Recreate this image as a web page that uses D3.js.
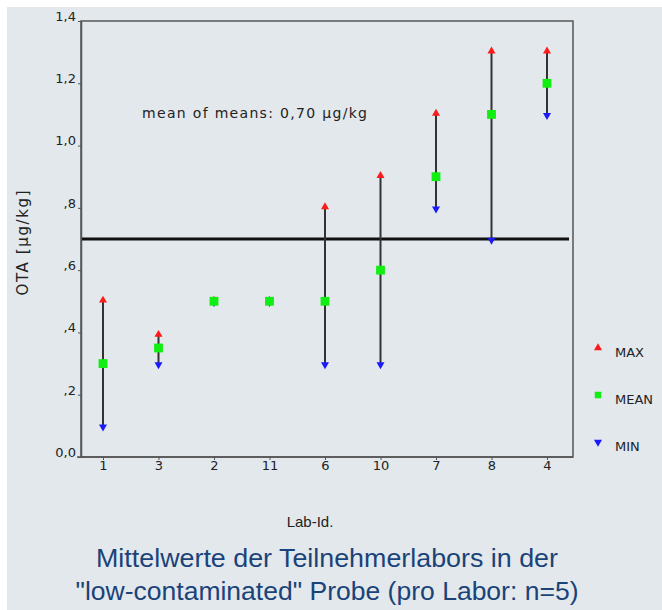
<!DOCTYPE html>
<html>
<head>
<meta charset="utf-8">
<script src="https://cdn.jsdelivr.net/npm/d3@7"></script>
<style>
  body { margin: 0; background: #fff; }
  svg { display: block; }
  .tick text { font-family: "DejaVu Sans", sans-serif; font-size: 13px; fill: #222; }
</style>
</head>
<body>
<div id="chart"></div>
<script>
// data
var labs = ["1", "3", "2", "11", "6", "10", "7", "8", "4"];
var maxVals = [0.5, 0.39, 0.5, 0.5, 0.8, 0.9, 1.1, 1.3, 1.3];
var meanVals = [0.3, 0.35, 0.5, 0.5, 0.5, 0.6, 0.9, 1.1, 1.2];
var minVals = [0.1, 0.3, 0.5, 0.5, 0.3, 0.3, 0.8, 0.7, 1.1];
var meanOfMeans = 0.7;
var yTicks = [0, 0.2, 0.4, 0.6, 0.8, 1.0, 1.2, 1.4];
var yTickLabels = ["0,0", ",2", ",4", ",6", ",8", "1,0", "1,2", "1,4"];
var legendNames = ["MAX", "MEAN", "MIN"];

var svgWidth = 662;
var svgHeight = 610;
var margin = {top: 21, right: 89, bottom: 153, left: 81};
var width = svgWidth - margin.left - margin.right;
var height = svgHeight - margin.top - margin.bottom;

var svg = d3.select("#chart")
  .append("svg")
  .attr("width", svgWidth)
  .attr("height", svgHeight);

// grey panel
svg.append("rect")
  .attr("x", 7).attr("y", 7)
  .attr("width", svgWidth - 7).attr("height", svgHeight - 7)
  .attr("fill", "#e3e8ec");

var chartGroup = svg.append("g")
  .attr("transform", `translate(${margin.left}, ${margin.top})`);

var xScale = d3.scalePoint()
  .domain(labs)
  .range([22, width - 26]);

var yScale = d3.scaleLinear()
  .domain([0, 1.4])
  .range([height, 0]);

// frame
chartGroup.append("rect")
  .attr("width", width).attr("height", height)
  .attr("fill", "none")
  .attr("stroke", "#555")
  .attr("stroke-width", 1.5);

// axes
var bottomAxis = d3.axisBottom(xScale).tickSize(3).tickSizeOuter(0).tickPadding(1);
var leftAxis = d3.axisLeft(yScale)
  .tickValues(yTicks)
  .tickFormat((d, i) => yTickLabels[i])
  .tickSize(3).tickSizeOuter(0).tickPadding(2);

var xAxisG = chartGroup.append("g")
  .attr("transform", `translate(0, ${height})`)
  .call(bottomAxis);
xAxisG.select(".domain").attr("d", `M-4,0H${width}`).attr("stroke", "#555").attr("stroke-width", 1.5);
xAxisG.selectAll(".tick line").attr("stroke", "#555");

var yAxisG = chartGroup.append("g").call(leftAxis);
yAxisG.select(".domain").attr("stroke", "#555").attr("stroke-width", 1.5);
yAxisG.selectAll(".tick line").attr("stroke", "#555");
yAxisG.selectAll(".tick text").attr("dy", "-0.05em");

// mean of means line
chartGroup.append("line")
  .attr("x1", 1).attr("x2", width - 4)
  .attr("y1", yScale(meanOfMeans)).attr("y2", yScale(meanOfMeans))
  .attr("stroke", "#111")
  .attr("stroke-width", 3);

chartGroup.append("text")
  .attr("x", 61)
  .attr("y", 97)
  .attr("font-family", "DejaVu Sans, sans-serif")
  .attr("font-size", 14)
  .attr("fill", "#222")
  .attr("textLength", 225)
  .text("mean of means: 0,70 µg/kg");

// range lines
var rows = labs.map((d, i) => ({lab: d, max: maxVals[i], mean: meanVals[i], min: minVals[i]}));

chartGroup.selectAll(".range")
  .data(rows)
  .enter()
  .append("line")
  .attr("class", "range")
  .attr("x1", d => xScale(d.lab))
  .attr("x2", d => xScale(d.lab))
  .attr("y1", d => yScale(d.max))
  .attr("y2", d => yScale(d.min))
  .attr("stroke", "#333")
  .attr("stroke-width", 2);

var triUp = d3.symbol().type(d3.symbolTriangle).size(28);
var square = d3.symbol().type(d3.symbolSquare).size(78);

chartGroup.selectAll(".minMark")
  .data(rows)
  .enter()
  .append("path")
  .attr("class", "minMark")
  .attr("d", triUp)
  .attr("transform", d => `translate(${xScale(d.lab)}, ${yScale(d.min) + 1}) rotate(180)`)
  .attr("fill", "#1a1aff");

chartGroup.selectAll(".maxMark")
  .data(rows)
  .enter()
  .append("path")
  .attr("class", "maxMark")
  .attr("d", triUp)
  .attr("transform", d => `translate(${xScale(d.lab)}, ${yScale(d.max) - 1})`)
  .attr("fill", "#ff1a1a");

chartGroup.selectAll(".meanMark")
  .data(rows)
  .enter()
  .append("path")
  .attr("class", "meanMark")
  .attr("d", square)
  .attr("transform", d => `translate(${xScale(d.lab)}, ${yScale(d.mean)})`)
  .attr("fill", "#11ee11");

// legend
var legend = svg.append("g").attr("transform", "translate(598, 348)");
var legendItems = legend.selectAll("g")
  .data(legendNames)
  .enter()
  .append("g")
  .attr("transform", (d, i) => `translate(0, ${i * 47})`);

legendItems.append("path")
  .attr("d", (d, i) => i == 1 ? d3.symbol().type(d3.symbolSquare).size(42)() : triUp())
  .attr("transform", (d, i) => i == 2 ? "rotate(180)" : null)
  .attr("fill", (d, i) => ["#ff1a1a", "#11ee11", "#1a1aff"][i]);

legendItems.append("text")
  .attr("x", 17)
  .attr("y", 4)
  .attr("dy", "0.35em")
  .attr("font-family", "DejaVu Sans, sans-serif")
  .attr("font-size", 13)
  .attr("fill", "#222")
  .text(d => d);

// axis labels
svg.append("text")
  .attr("transform", "rotate(-90)")
  .attr("x", -243)
  .attr("y", 28)
  .attr("text-anchor", "middle")
  .attr("font-family", "DejaVu Sans, sans-serif")
  .attr("font-size", 15)
  .attr("fill", "#222")
  .attr("textLength", 105)
  .text("OTA [µg/kg]");

svg.append("text")
  .attr("x", 310)
  .attr("y", 527)
  .attr("text-anchor", "middle")
  .attr("font-family", "Liberation Sans, Arial, sans-serif")
  .attr("font-size", 15)
  .attr("fill", "#222")
  .text("Lab-Id.");

// title
var titleLines = ["Mittelwerte der Teilnehmerlabors in der", "\"low-contaminated\" Probe (pro Labor: n=5)"];
var titleWidths = [462, 503];
svg.selectAll(".title")
  .data(titleLines)
  .enter()
  .append("text")
  .attr("class", "title")
  .attr("x", 327)
  .attr("y", (d, i) => 567 + i * 33)
  .attr("text-anchor", "middle")
  .attr("font-family", "Liberation Sans, Arial, sans-serif")
  .attr("font-size", 25)
  .attr("fill", "#1a4379")
  .attr("textLength", (d, i) => titleWidths[i])
  .attr("lengthAdjust", "spacingAndGlyphs")
  .text(d => d);
</script>
</body>
</html>
